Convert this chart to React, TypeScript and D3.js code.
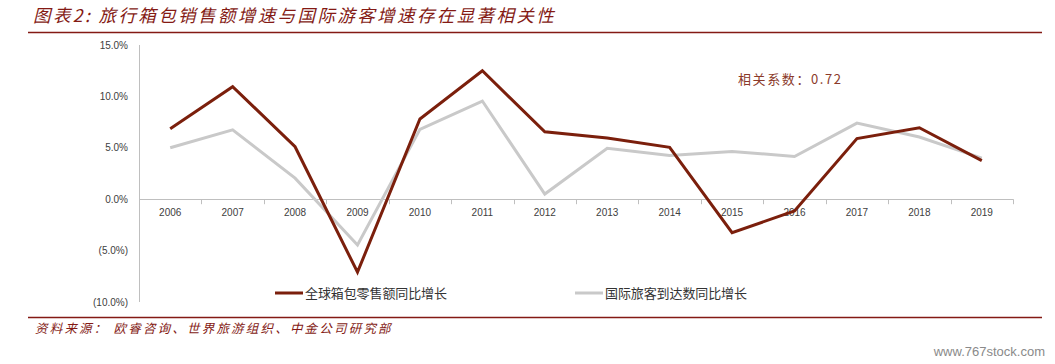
import React from "react";
import * as d3 from "d3";

const years = ["2006","2007","2008","2009","2010","2011","2012","2013","2014","2015","2016","2017","2018","2019"];
const luggageGrowth = [6.85, 10.95, 5.1, -7.1, 7.8, 12.5, 6.55, 5.95, 5.05, -3.25, -1.15, 5.9, 6.95, 3.75];
const touristGrowth = [5.0, 6.75, 2.05, -4.45, 6.8, 9.55, 0.5, 4.95, 4.25, 4.65, 4.15, 7.4, 6.05, 4.0];
const yTicks = [15, 10, 5, 0, -5, -10];
const seriesNames = ["全球箱包零售额同比增长", "国际旅客到达数同比增长"];
const titleText = "图表2: 旅行箱包销售额增速与国际游客增速存在显著相关性";
const sourceText = "资料来源：  欧睿咨询、世界旅游组织、中金公司研究部";
const noteText = "相关系数：0.72";

const W = 1055, H = 364;
const BROWN = "#7B1F0C";
const GRAY = "#C9C9C9";
const RED = "#841A14";
const CJK = "'Noto Sans CJK SC', 'Noto Sans', sans-serif";
const LAT = "'Liberation Sans', Arial, sans-serif";

const fmt = (v: number) => (v < 0 ? `(${Math.abs(v).toFixed(1)}%)` : `${v.toFixed(1)}%`);

export default function App() {
  const x = d3.scaleBand<string>().domain(years).range([139, 1013]);
  const y = d3.scaleLinear().domain([-10, 15]).range([302, 45]);
  const cx = (d: string) => (x(d) as number) + x.bandwidth() / 2;
  const line = d3.line<number>().x((_, i) => cx(years[i])).y((v) => y(v));
  const boundaries = years.map((d) => x(d) as number).concat([1013]);

  return (
    <svg width={W} height={H} style={{ position: "absolute", left: 0, top: 0, background: "#fff" }}>
      <text x={33} y={22} fontFamily={CJK} fontSize={17.5} fontStyle="italic" fill={RED} letterSpacing={2.4}>{titleText}</text>
      <line x1={28} x2={1042} y1={32.5} y2={32.5} stroke={RED} strokeWidth={1.5} />
      <line x1={28} x2={1042} y1={317.5} y2={317.5} stroke={RED} strokeWidth={1.5} />
      <text x={35} y={333} fontFamily={CJK} fontSize={12.5} fontStyle="italic" fill={RED} letterSpacing={2.2}>{sourceText}</text>
      <text x={1045} y={356} textAnchor="end" fontFamily={LAT} fontSize={13} fill="#8a8a8a">www.767stock.com</text>

      {/* y axis */}
      <line x1={139.5} x2={139.5} y1={y(15)} y2={y(-10)} stroke="#bfbfbf" strokeWidth={1} />
      {yTicks.map((t) => (
        <text key={t} x={128} y={y(t) + 3.5} textAnchor="end" fontFamily={LAT} fontSize={10} fill="#404040">{fmt(t)}</text>
      ))}
      {/* x axis */}
      <line x1={139} x2={1013} y1={Math.round(y(0)) + 0.5} y2={Math.round(y(0)) + 0.5} stroke="#bfbfbf" strokeWidth={1} />
      {boundaries.map((b, i) => (
        <line key={i} x1={Math.round(b) + 0.5} x2={Math.round(b) + 0.5} y1={y(0)} y2={y(0) + 5} stroke="#bfbfbf" strokeWidth={1} />
      ))}
      {years.map((d) => (
        <text key={d} x={cx(d)} y={y(0) + 17} textAnchor="middle" fontFamily={LAT} fontSize={10} fill="#404040">{d}</text>
      ))}

      <path d={line(touristGrowth) || ""} fill="none" stroke={GRAY} strokeWidth={3} strokeLinejoin="miter" />
      <path d={line(luggageGrowth) || ""} fill="none" stroke={BROWN} strokeWidth={3} strokeLinejoin="miter" />

      <text x={738} y={84} fontFamily={CJK} fontSize={13} fill="#8B3A2A" letterSpacing={1.6}>{noteText}</text>

      {/* legend */}
      <line x1={275} x2={303} y1={293} y2={293} stroke={BROWN} strokeWidth={3} />
      <text x={305} y={297.5} fontFamily={CJK} fontSize={13} fill="#333" letterSpacing={-0.1}>{seriesNames[0]}</text>
      <line x1={575} x2={603} y1={293} y2={293} stroke={GRAY} strokeWidth={3} />
      <text x={605} y={297.5} fontFamily={CJK} fontSize={13} fill="#333" letterSpacing={-0.1}>{seriesNames[1]}</text>
    </svg>
  );
}
